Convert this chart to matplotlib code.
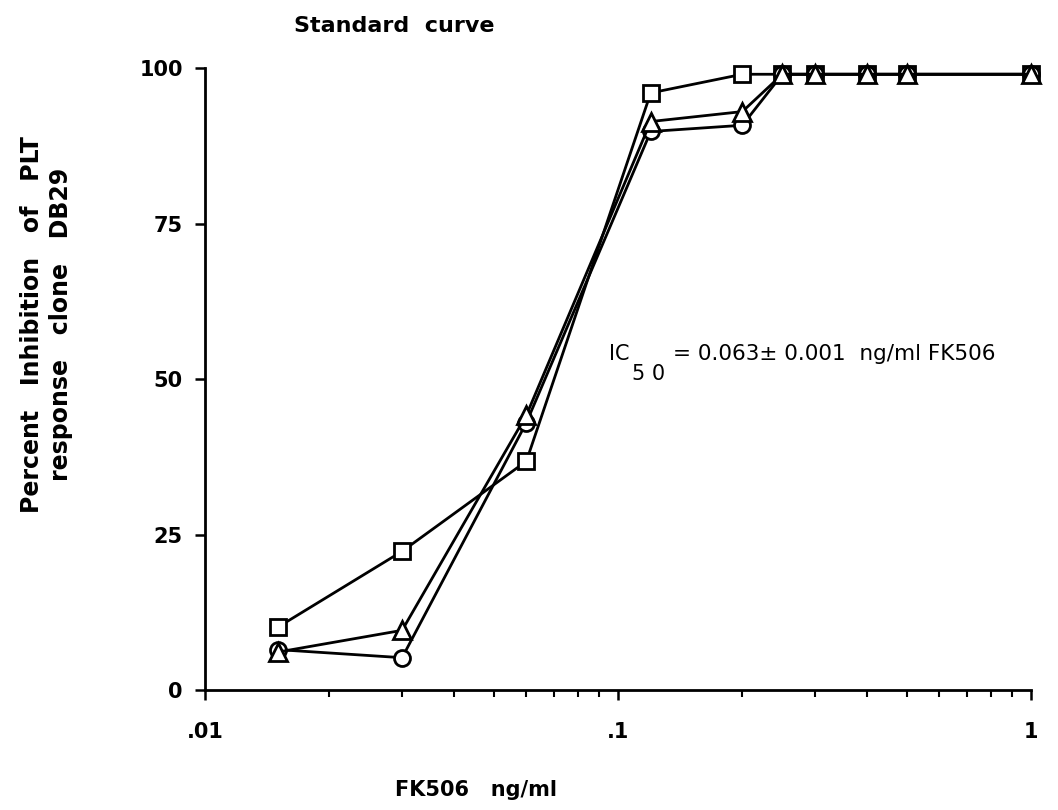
import matplotlib
matplotlib.use("Agg")
import matplotlib.pyplot as plt
from matplotlib.ticker import FixedLocator, LogLocator, NullFormatter

plt.rcParams["font.family"] = ["DejaVu Sans"]

# FK506 concentration (ng/ml) and percent inhibition for the three runs
conc = [0.015, 0.03, 0.06, 0.12, 0.2, 0.25, 0.3, 0.4, 0.5, 1.0]
run_square = [10.1, 22.3, 36.8, 96.0, 99.0, 99.0, 99.0, 99.0, 99.0, 99.0]
run_circle = [6.5, 5.2, 43.0, 89.8, 90.8, 99.0, 99.0, 99.0, 99.0, 99.0]
run_triangle = [6.1, 9.6, 44.2, 91.4, 93.0, 99.0, 99.0, 99.0, 99.0, 99.0]

x_ticks = [0.01, 0.1, 1]
x_ticklabels = [".01", ".1", "1"]
y_ticks = [0, 25, 50, 75, 100]

fig = plt.figure(figsize=(10.58, 8.10), dpi=100)
ax = fig.add_axes([0.1938, 0.1481, 0.7807, 0.7679])

common = dict(color="black", lw=2.0, mfc="white", mec="black", mew=2.0, clip_on=False)
ax.plot(conc, run_square, marker="s", ms=12, **common)
ax.plot(conc, run_circle, marker="o", ms=11.5, **common)
ax.plot(conc, run_triangle, marker="^", ms=13.5, **common)

ax.set_xscale("log")
ax.set_xlim(0.01, 1)
ax.set_ylim(0, 100)

ax.xaxis.set_major_locator(FixedLocator(x_ticks))
ax.set_xticklabels(x_ticklabels)
ax.xaxis.set_minor_locator(LogLocator(base=10, subs=range(2, 10)))
ax.xaxis.set_minor_formatter(NullFormatter())
ax.set_yticks(y_ticks)

for s in ["top", "right"]:
    ax.spines[s].set_visible(False)
for s in ["left", "bottom"]:
    ax.spines[s].set_linewidth(2.0)

ax.tick_params(axis="both", which="major", direction="out", length=7, width=1.8,
               labelsize=15)
ax.tick_params(axis="y", which="major", pad=9)
ax.tick_params(axis="x", which="major", pad=16)
ax.tick_params(axis="x", which="minor", direction="out", length=5, width=1.5)
for lab in ax.get_xticklabels() + ax.get_yticklabels():
    lab.set_fontweight("bold")

# IC50 annotation
ax.text(0.489, 0.540, "IC", transform=ax.transAxes, fontsize=15,
        ha="left", va="center")
ax.text(0.517, 0.508, "5 0", transform=ax.transAxes, fontsize=15,
        ha="left", va="center")
ax.text(0.566, 0.540, "= 0.063± 0.001  ng/ml FK506", transform=ax.transAxes,
        fontsize=15.5, ha="left", va="center")

fig.text(0.373, 0.968, "Standard  curve", fontsize=16, fontweight="bold",
         ha="center", va="center")
fig.text(0.450, 0.025, "FK506   ng/ml", fontsize=15, fontweight="bold",
         ha="center", va="center")
fig.text(0.044, 0.599, "Percent   Inhibition   of   PLT\nresponse   clone   DB29",
         fontsize=17, fontweight="bold", rotation=90, ha="center", va="center",
         multialignment="center", linespacing=1.3)

fig.savefig("out.png", dpi=100)
